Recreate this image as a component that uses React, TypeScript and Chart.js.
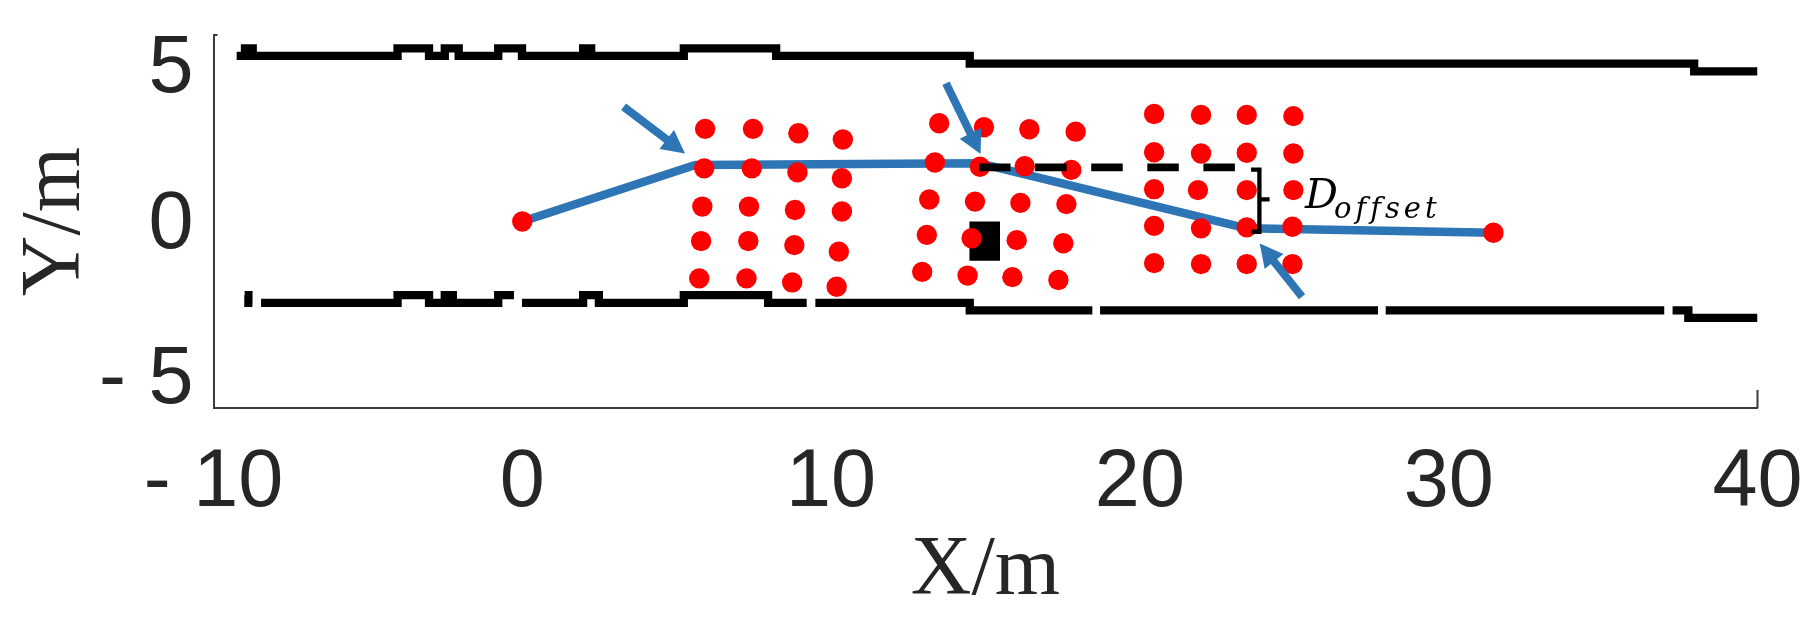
import React, { useEffect, useRef } from 'react';
import { Chart, registerables } from 'chart.js';

Chart.register(...registerables);

// ---------- axis ticks ----------
const X_TICKS = [-10, 0, 10, 20, 30, 40];
const Y_TICKS = [-5, 0, 5];

// ---------- road boundaries (stepped, null = gap) ----------
const upperX = [-9.25, -8.98, -8.73, -4.04, -3.02, -2.51, -2.06, -0.78, -0.01, 1.97, 2.23, 5.23, 8.22, 14.49, 37.95, 40.0];
const upperY = [5.33, 5.57, 5.33, 5.57, 5.33, 5.57, 5.33, 5.57, 5.33, 5.57, 5.33, 5.57, 5.33, 5.08, 4.83, 4.83];

const lowerX = [-8.99, -8.87, -8.74, -8.6, -8.46, -4.04, -3.02, -2.51, -2.25, -0.78, -0.27, -0.14, -0.01, 1.97, 2.48, 5.23, 7.96, 9.21, 9.35, 9.49, 14.49, 18.46, 18.58, 18.71, 27.71, 27.83, 27.96, 36.98, 37.1, 37.25, 37.76, 40.0];
const lowerY = [-2.37, -2.62, -2.62, null, -2.62, -2.37, -2.62, -2.37, -2.62, -2.37, -2.37, null, -2.62, -2.37, -2.62, -2.37, -2.62, -2.62, null, -2.62, -2.86, -2.86, null, -2.86, -2.86, null, -2.86, -2.86, null, -2.86, -3.1, -3.1];

// ---------- planned trajectory ----------
const trajX = [0, 5.6, 14.82, 23.46, 31.45];
const trajY = [0, 1.82, 1.87, -0.22, -0.36];

// ---------- obstacle point clusters ----------
const cluster1X = [5.92, 7.47, 8.94, 10.38, 5.89, 7.43, 8.91, 10.35, 5.83, 7.34, 8.83, 10.35, 5.79, 7.32, 8.81, 10.25, 5.73, 7.26, 8.74, 10.18];
const cluster1Y = [2.98, 2.98, 2.84, 2.64, 1.71, 1.71, 1.58, 1.39, 0.48, 0.48, 0.37, 0.32, -0.63, -0.63, -0.76, -0.97, -1.83, -1.83, -1.96, -2.1];

const cluster2X = [13.5, 14.95, 16.42, 17.92, 13.36, 14.82, 16.27, 17.78, 13.18, 14.66, 16.13, 17.62, 13.1, 14.55, 16.01, 17.52, 12.95, 14.42, 15.87, 17.36];
const cluster2Y = [3.16, 3.03, 2.97, 2.89, 1.9, 1.76, 1.78, 1.66, 0.71, 0.64, 0.6, 0.56, -0.43, -0.54, -0.6, -0.7, -1.62, -1.74, -1.79, -1.88];

const cluster3X = [20.46, 21.98, 23.46, 24.97, 20.46, 21.98, 23.46, 24.97, 20.46, 21.88, 23.46, 24.97, 20.46, 21.98, 23.46, 24.94, 20.46, 21.98, 23.46, 24.94];
const cluster3Y = [3.46, 3.43, 3.43, 3.39, 2.23, 2.19, 2.21, 2.19, 1.04, 1.01, 1.01, 1.01, -0.14, -0.22, -0.19, -0.17, -1.34, -1.37, -1.37, -1.37];

// ---------- ego vehicle box ----------
const boxX = [14.48, 15.47, 15.47, 14.48, 14.48];
const boxY = [0, 0, -1.26, -1.26, 0];

// ---------- offset reference (dashed) and bracket ----------
const refX = [14.79, 23.08];
const refY = [1.74, 1.74];
const bracketX = [23.6, 23.87, 23.87, 23.6];
const bracketY = [1.67, 1.67, -0.33, -0.33];
const nubX = [23.87, 24.2];
const nubY = [0.71, 0.71];

// ---------- arrows (tail -> tip) ----------
const arrowTailX = [3.28, 13.72, 25.25];
const arrowTailY = [3.69, 4.45, -2.42];
const arrowTipX = [5.27, 14.84, 23.88];
const arrowTipY = [2.19, 2.17, -0.71];

// ---------- label anchor ----------
const labelAnchorX = 25.35;
const labelAnchorY = 0.42;

const BLUE = 'rgb(46,117,182)';
const RED = '#ff0000';
const TEXT = '#262626';
const AXIS = '#3a3a3a';
const SANS = '"Liberation Sans", Arial, Helvetica, sans-serif';
const SERIF = '"Liberation Serif", "Times New Roman", serif';
const MATH = '"DejaVu Serif", "Liberation Serif", serif';

const pts = (xs: number[], ys: (number | null)[]) => xs.map((x, i) => ({ x, y: ys[i] }));
const fmt = (v: number | string) => {
  const n = Number(v);
  return n < 0 ? '- ' + Math.abs(n) : String(n);
};

const annotPlugin = {
  id: 'annot',
  afterDatasetsDraw(chart: any) {
    const { ctx } = chart;
    const xs = chart.scales.x;
    const ys = chart.scales.y;
    ctx.save();
    // arrows
    ctx.fillStyle = BLUE;
    ctx.strokeStyle = BLUE;
    for (let i = 0; i < arrowTailX.length; i++) {
      const x0 = xs.getPixelForValue(arrowTailX[i]);
      const y0 = ys.getPixelForValue(arrowTailY[i]);
      const x1 = xs.getPixelForValue(arrowTipX[i]);
      const y1 = ys.getPixelForValue(arrowTipY[i]);
      const dx = x1 - x0, dy = y1 - y0;
      const L = Math.hypot(dx, dy);
      const ux = dx / L, uy = dy / L;
      const hl = 23, hw = 12;
      const bx = x1 - ux * hl, by = y1 - uy * hl;
      ctx.lineWidth = 8;
      ctx.lineCap = 'butt';
      ctx.beginPath();
      ctx.moveTo(x0, y0);
      ctx.lineTo(bx + ux * 2, by + uy * 2);
      ctx.stroke();
      ctx.beginPath();
      ctx.moveTo(x1, y1);
      ctx.lineTo(bx - uy * hw, by + ux * hw);
      ctx.lineTo(bx + uy * hw, by - ux * hw);
      ctx.closePath();
      ctx.fill();
    }
    // D_offset label
    const lx = xs.getPixelForValue(labelAnchorX);
    const ly = ys.getPixelForValue(labelAnchorY);
    ctx.fillStyle = '#000';
    ctx.textAlign = 'left';
    ctx.textBaseline = 'alphabetic';
    ctx.font = 'italic 41px ' + MATH;
    ctx.fillText('D', lx, ly);
    const wD = ctx.measureText('D').width;
    ctx.font = 'italic 29px ' + MATH;
    (ctx as any).letterSpacing = '4px';
    ctx.fillText('offset', lx + wD * 0.88, ly + 10);
    (ctx as any).letterSpacing = '0px';
    ctx.restore();
  },
  afterDraw(chart: any) {
    const { ctx, chartArea } = chart;
    const xs = chart.scales.x;
    const xr = xs.getPixelForValue(X_TICKS[X_TICKS.length - 1]);
    ctx.save();
    ctx.strokeStyle = AXIS;
    ctx.lineWidth = 2;
    ctx.beginPath();
    ctx.moveTo(xr, chartArea.bottom);
    ctx.lineTo(xr, chartArea.bottom - 18);
    ctx.moveTo(chartArea.left, chartArea.top);
    ctx.lineTo(chartArea.left + 4, chartArea.top);
    ctx.stroke();
    ctx.restore();
  },
};

export default function App() {
  const ref = useRef<HTMLCanvasElement | null>(null);

  useEffect(() => {
    if (!ref.current) return;
    const chart = new Chart(ref.current, {
      type: 'scatter',
      data: {
        datasets: [
          {
            label: 'offset reference',
            data: pts(refX, refY),
            showLine: true,
            borderColor: '#000',
            borderWidth: 7.7,
            borderDash: [31.5, 24.6],
            borderCapStyle: 'butt',
            pointRadius: 0,
            order: 1,
          } as any,
          {
            label: 'bracket',
            data: pts(bracketX, bracketY),
            showLine: true,
            borderColor: '#000',
            borderWidth: 4.3,
            borderJoinStyle: 'miter',
            borderCapStyle: 'butt',
            pointRadius: 0,
            order: 1,
          } as any,
          {
            label: 'bracket nub',
            data: pts(nubX, nubY),
            showLine: true,
            borderColor: '#000',
            borderWidth: 4.3,
            borderCapStyle: 'butt',
            pointRadius: 0,
            order: 1,
          } as any,
          {
            label: 'cluster 1',
            data: pts(cluster1X, cluster1Y),
            showLine: false,
            backgroundColor: RED,
            borderWidth: 0,
            pointRadius: 10.2,
            order: 3,
          } as any,
          {
            label: 'cluster 2',
            data: pts(cluster2X, cluster2Y),
            showLine: false,
            backgroundColor: RED,
            borderWidth: 0,
            pointRadius: 10.2,
            order: 3,
          } as any,
          {
            label: 'cluster 3',
            data: pts(cluster3X, cluster3Y),
            showLine: false,
            backgroundColor: RED,
            borderWidth: 0,
            pointRadius: 10.2,
            order: 3,
          } as any,
          {
            label: 'vehicle',
            data: pts(boxX, boxY),
            showLine: true,
            borderColor: '#000',
            borderWidth: 0,
            backgroundColor: '#000',
            fill: 'shape',
            pointRadius: 0,
            order: 4,
          } as any,
          {
            label: 'trajectory',
            data: pts(trajX, trajY),
            showLine: true,
            borderColor: BLUE,
            borderWidth: 8.5,
            borderJoinStyle: 'round',
            borderCapStyle: 'butt',
            pointRadius: (c: any) => (c.dataIndex === 0 || c.dataIndex === trajX.length - 1 ? 10.2 : 0),
            pointBackgroundColor: RED,
            pointBorderWidth: 0,
            order: 5,
          } as any,
          {
            label: 'upper boundary',
            data: pts(upperX, upperY),
            showLine: true,
            stepped: 'before',
            spanGaps: false,
            borderColor: '#000',
            borderWidth: 8.3,
            borderJoinStyle: 'miter',
            borderCapStyle: 'butt',
            pointRadius: 0,
            order: 6,
          } as any,
          {
            label: 'lower boundary',
            data: pts(lowerX, lowerY),
            showLine: true,
            stepped: 'before',
            spanGaps: false,
            borderColor: '#000',
            borderWidth: 8.3,
            borderJoinStyle: 'miter',
            borderCapStyle: 'butt',
            pointRadius: 0,
            order: 6,
          } as any,
        ],
      },
      options: {
        animation: false,
        responsive: false,
        devicePixelRatio: 1,
        layout: { autoPadding: false, padding: { left: 0, top: 35, right: 60.5, bottom: 0 } },
        plugins: { legend: { display: false }, tooltip: { enabled: false } },
        events: [],
        scales: {
          x: {
            type: 'linear',
            min: -10,
            max: 40,
            grid: { display: false, drawTicks: false },
            border: { display: true, color: AXIS, width: 2 },
            ticks: {
              stepSize: 10,
              padding: 27,
              color: TEXT,
              font: { family: SANS, size: 81 },
              maxRotation: 0,
              autoSkip: false,
              callback: fmt,
            },
            afterBuildTicks: (s: any) => {
              s.ticks = X_TICKS.map((v) => ({ value: v }));
            },
            afterFit: (s: any) => {
              s.height = 230;
              s.paddingLeft = 0;
              s.paddingRight = 0;
            },
            title: {
              display: true,
              text: 'X/m',
              color: TEXT,
              font: { family: SERIF, size: 84 },
              padding: { top: 0, bottom: 16 },
            },
          },
          y: {
            type: 'linear',
            min: -6,
            max: 6,
            grid: { display: false, drawTicks: false },
            border: { display: true, color: AXIS, width: 2 },
            ticks: {
              padding: 20,
              labelOffset: 4,
              color: TEXT,
              font: { family: SANS, size: 81 },
              autoSkip: false,
              callback: fmt,
            },
            afterBuildTicks: (s: any) => {
              s.ticks = Y_TICKS.map((v) => ({ value: v }));
            },
            afterFit: (s: any) => {
              s.width = 213.5;
              s.paddingTop = 0;
              s.paddingBottom = 0;
            },
            title: {
              display: true,
              text: 'Y/m',
              color: TEXT,
              font: { family: SERIF, size: 84 },
              padding: { top: 7, bottom: 0 },
            },
          },
        },
      } as any,
      plugins: [annotPlugin],
    });
    return () => chart.destroy();
  }, []);

  return (
    <div style={{ position: 'fixed', left: 0, top: 0, width: 1818, height: 638, background: '#fff' }}>
      <canvas ref={ref} width={1818} height={638} style={{ display: 'block', width: 1818, height: 638 }} />
    </div>
  );
}
